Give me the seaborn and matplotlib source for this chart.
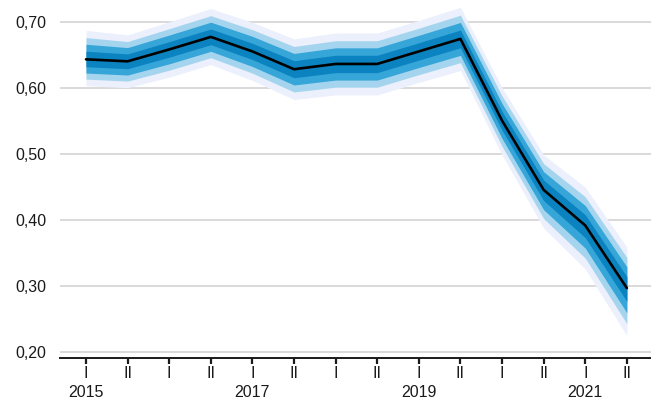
import matplotlib
matplotlib.use("Agg")
import matplotlib.pyplot as plt
import matplotlib.transforms as mtransforms
import numpy as np
import pandas as pd
import seaborn as sns

# Half-year periods, 2015 I .. 2021 II
half_labels = ["I", "II"] * 7
year_labels = ["2015", "2017", "2019", "2021"]
year_positions = [0, 4, 8, 12]

# Central projection
central = [0.644, 0.641, 0.659, 0.678, 0.656, 0.629, 0.637,
           0.637, 0.656, 0.675, 0.551, 0.446, 0.392, 0.297]

# Outer half-width of the fan above and below the central path
spread_up = [0.044, 0.040, 0.042, 0.043, 0.044, 0.046, 0.047,
             0.047, 0.047, 0.048, 0.050, 0.053, 0.058, 0.062]
spread_down = [0.040, 0.040, 0.042, 0.042, 0.044, 0.046, 0.047,
               0.047, 0.047, 0.048, 0.052, 0.058, 0.066, 0.072]

# Share of the outer width covered by each band (outermost first)
band_share = [1.0, 0.75, 0.52, 0.28]
band_colors = ["#ebf0fc", "#a5d5ee", "#36a5d8", "#0a83c0"]

df = pd.DataFrame({"period": np.arange(len(central)), "value": central})
up = np.array(spread_up)
down = np.array(spread_down)
mid = np.array(central)

sns.set_style("white")
plt.rcParams["font.family"] = ["Liberation Sans", "DejaVu Sans"]

fig = plt.figure(figsize=(6.51, 3.99), dpi=100)
ax = fig.add_axes([60 / 651, 41 / 399, 591 / 651, 358 / 399])

for share, color in zip(band_share, band_colors):
    ax.fill_between(df["period"], mid - share * down, mid + share * up,
                    color=color, linewidth=0, zorder=2)

sns.lineplot(data=df, x="period", y="value", color="black", linewidth=1.9,
             ax=ax, zorder=3)

ax.set_xlim(-0.625, 13.58)
ax.set_ylim(0.191, 0.734)

yticks = [0.20, 0.30, 0.40, 0.50, 0.60, 0.70]
ax.set_yticks(yticks)
ax.set_yticklabels([f"{v:.2f}".replace(".", ",") for v in yticks],
                   fontsize=11.5, color="#1a1a1a")
ax.yaxis.grid(True, color="#cfcfcf", linewidth=1.1, zorder=0)
ax.xaxis.grid(False)
ax.tick_params(axis="y", length=0, pad=10)

ax.set_xticks(df["period"])
ax.set_xticklabels(half_labels, fontsize=11.5, color="#1a1a1a")
ax.tick_params(axis="x", direction="out", length=4, width=1.6,
               color="#1a1a1a", pad=2, bottom=True)

trans = mtransforms.blended_transform_factory(ax.transData, ax.transAxes)
for yr, pos in zip(year_labels, year_positions):
    ax.text(pos, -0.095, yr, transform=trans, ha="center", va="center",
            fontsize=11.5, color="#1a1a1a")

for side in ["top", "right", "left"]:
    ax.spines[side].set_visible(False)
ax.spines["bottom"].set_color("#1a1a1a")
ax.spines["bottom"].set_linewidth(1.4)

ax.set_xlabel("")
ax.set_ylabel("")

fig.savefig("out.png", dpi=100)
